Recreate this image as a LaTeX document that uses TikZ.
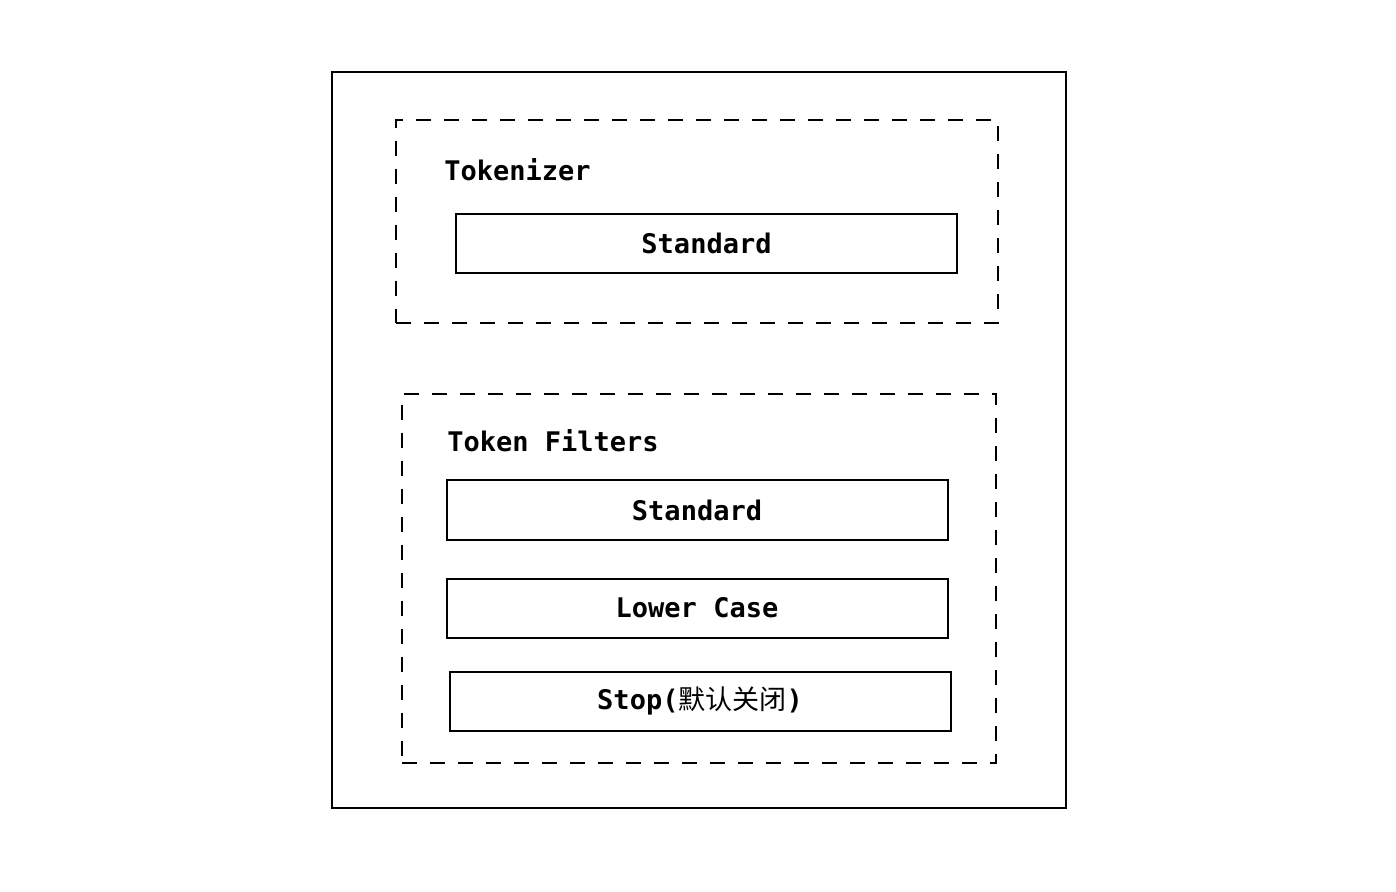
\documentclass[tikz,border=0pt]{standalone}
\usepackage{fontspec}
\setmonofont{DejaVu Sans Mono}
\newfontfamily\cjk{Noto Sans CJK SC}
\usetikzlibrary{positioning}

\begin{document}
\begin{tikzpicture}[
		x=0.5pt, y=-0.5pt
		,every node/.style={font=\ttfamily\bfseries\fontsize{13.5}{16}\selectfont}
		,outer/.style={draw, line width=1.2pt, minimum width=367pt, minimum height=368pt}
		,group/.style={draw, line width=1pt, dash pattern=on 7.5pt off 6.5pt}
		,box/.style={draw, line width=1pt, minimum width=250.5pt, minimum height=29.5pt, inner sep=0pt}
		,title/.style={anchor=west, inner sep=0pt}
		,node distance=18.5pt
	]
		\useasboundingbox (0,0) rectangle (1396,892);

		\node[outer] (O) at (699,440) {};

		% tokenizer
		\node[group, minimum width=301pt, minimum height=101.5pt] (T) at (697,221.5) {};
		\node[title] (TL) at (444,170) {Tokenizer};
		\node[box] (TS) at (706.5,243.5) {Standard};

		% token filters
		\node[group, minimum width=297pt, minimum height=184.5pt] (F) at (699,578.5) {};
		\node[title] (FL) at (447,441) {Token Filters};
		\node[box] (FS) at (697,510) {Standard};
		\node[box, below=of FS] (FC) {Lower Case};
		\node[box, below=16pt of FC, xshift=1.5pt] (FT) {Stop({\cjk\mdseries 默认关闭})};
	\end{tikzpicture}
\end{document}
